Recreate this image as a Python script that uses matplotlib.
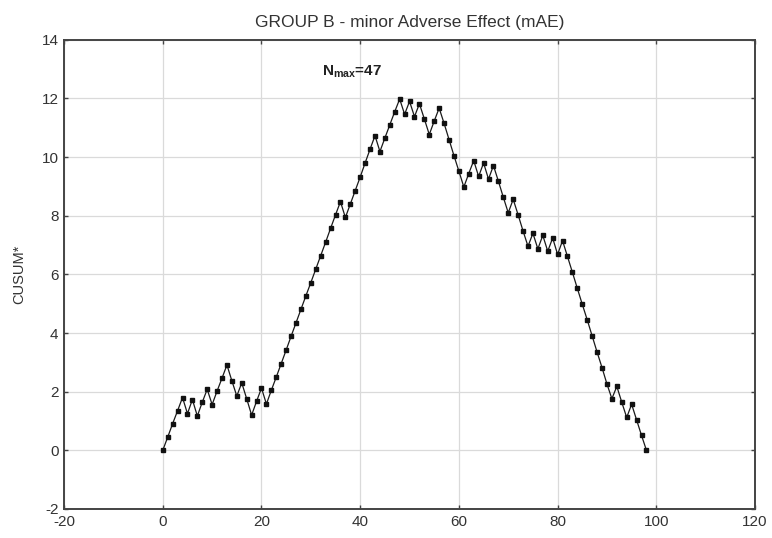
import numpy as np
import matplotlib
matplotlib.use("Agg")
import matplotlib.pyplot as plt

plt.rcParams['font.family'] = ['Liberation Sans', 'DejaVu Sans']
plt.rcParams['axes.unicode_minus'] = False
plt.rcParams['mathtext.fontset'] = 'custom'
plt.rcParams['mathtext.rm'] = 'Liberation Sans'
plt.rcParams['mathtext.bf'] = 'Liberation Sans:bold'

title = "GROUP B - minor Adverse Effect (mAE)"
ylabel = "CUSUM*"
n_max = 47

# CUSUM value after each consecutive case
cusum = [0.00, 0.45, 0.91, 1.35, 1.80, 1.25, 1.73, 1.17, 1.64, 2.08,
         1.56, 2.02, 2.46, 2.91, 2.37, 1.85, 2.30, 1.76, 1.20, 1.67,
         2.12, 1.58, 2.05, 2.50, 2.96, 3.42, 3.89, 4.35, 4.81, 5.27,
         5.72, 6.18, 6.64, 7.10, 7.57, 8.03, 8.48, 7.94, 8.40, 8.86,
         9.32, 9.80, 10.27, 10.73, 10.19, 10.65, 11.10, 11.55, 11.98, 11.46,
         11.90, 11.38, 11.82, 11.30, 10.77, 11.23, 11.67, 11.15, 10.60, 10.05,
         9.52, 8.98, 9.44, 9.88, 9.34, 9.80, 9.25, 9.71, 9.18, 8.63,
         8.10, 8.56, 8.03, 7.48, 6.96, 7.40, 6.87, 7.33, 6.79, 7.24,
         6.68, 7.15, 6.61, 6.07, 5.52, 4.98, 4.45, 3.90, 3.35, 2.82,
         2.26, 1.76, 2.18, 1.64, 1.12, 1.57, 1.04, 0.51, 0.00]
cases = np.arange(len(cusum))

xticks = [-20, 0, 20, 40, 60, 80, 100, 120]
yticks = [-2, 0, 2, 4, 6, 8, 10, 12, 14]

fig = plt.figure(figsize=(7.72, 5.38), dpi=100)
ax = fig.add_axes([0.083, 0.054, 0.895, 0.872])

ax.plot(cases, cusum, color='#1a1a1a', lw=0.9, marker='s', ms=2.8,
        mfc='#111111', mec='#111111', zorder=3)

ax.set_xlim(-20, 120)
ax.set_ylim(-2, 14)
ax.set_xticks(xticks)
ax.set_yticks(yticks)
ax.grid(True, color='#dadada', lw=0.9)
ax.set_axisbelow(True)

for s in ax.spines.values():
    s.set_color('#444444')
    s.set_linewidth(1.4)
ax.tick_params(direction='in', length=3, width=1, color='#444444',
               labelsize=11, labelcolor='#333333', top=True, right=True,
               pad=4)

ax.set_title(title, fontsize=12.5, color='#333333', pad=9)
ax.set_ylabel(ylabel, fontsize=10.5, color='#333333', labelpad=11)

ax.text(38.3, 12.9, r'$\mathbf{N_{max}}$' + f'={n_max}', fontsize=11,
        fontweight='bold', color='#222222', ha='center', va='center')

fig.savefig('out.png', dpi=100)
